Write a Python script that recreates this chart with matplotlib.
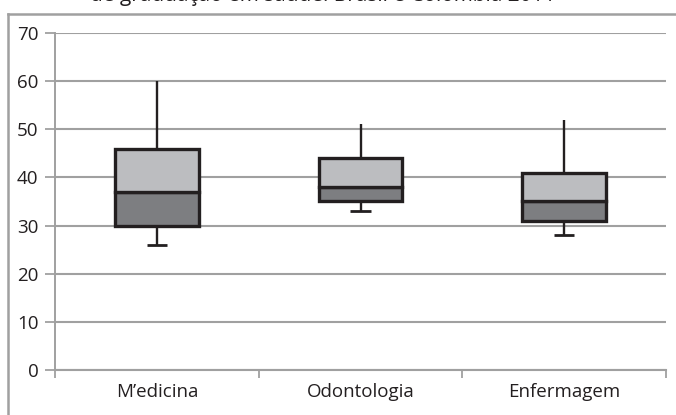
import numpy as np
import matplotlib
matplotlib.use("Agg")
from matplotlib import pyplot as plt
from matplotlib.lines import Line2D

# DADOS
cursos = ["M\u2019edicina", "Odontologia", "Enfermagem"]
minimo = [26, 33, 28]
q1 = [30, 35, 31]
mediana = [37, 38, 35]
q3 = [46, 44, 41]
maximo = [60, 51, 52]
titulo = "de graduação em saúde. Brasil e Colômbia 2011"

plt.rcParams['font.family'] = ['Open Sans', 'DejaVu Sans']

fig = plt.figure(figsize=(6.76, 4.15), dpi=100)
ax = fig.add_axes([55 / 676, 45 / 415, 611 / 676, 337 / 415])

x = np.arange(len(cursos))
largura = 0.41
cor_borda = '#231f20'

# bigodes
ax.vlines(x, maximo, q3, color=cor_borda, lw=1.7, zorder=3)
ax.vlines(x, minimo, q1, color=cor_borda, lw=1.7, zorder=3)
ax.hlines(minimo, x - 0.05, x + 0.05, color=cor_borda, lw=2, zorder=3)

# caixas
ax.bar(x, np.array(mediana) - np.array(q1), bottom=q1, width=largura,
       color='#7d7e81', edgecolor=cor_borda, linewidth=2.4, zorder=4)
ax.bar(x, np.array(q3) - np.array(mediana), bottom=mediana, width=largura,
       color='#bcbdc0', edgecolor=cor_borda, linewidth=2.4, zorder=4)

ax.set_xlim(-0.5, len(cursos) - 0.5)
ax.set_ylim(0, 70)
ax.set_yticks(range(0, 71, 10))
ax.set_xticks(x)
ax.set_xticklabels(cursos, fontsize=13.5, color='#231f20')
ax.set_xticks(np.arange(len(cursos) + 1) - 0.5, minor=True)
ax.tick_params(axis='x', which='major', length=0, pad=9)
ax.tick_params(axis='x', which='minor', length=6, color='#a0a0a0', width=1.3)
ax.tick_params(axis='y', length=7, color='#a0a0a0', width=1.3, labelsize=13.5,
               labelcolor='#231f20', pad=5)
ax.yaxis.grid(True, color='#a0a0a0', lw=1.5)
ax.set_axisbelow(True)
for s in ['top', 'right']:
    ax.spines[s].set_visible(False)
ax.spines['left'].set_color('#a0a0a0')
ax.spines['left'].set_linewidth(1.4)
ax.spines['bottom'].set_color('#a0a0a0')
ax.spines['bottom'].set_linewidth(1.5)

# moldura cortada
fig.add_artist(Line2D([8 / 676, 8 / 676], [0, 1 - 14 / 415], color='#a0a0a0', lw=1.8))
fig.add_artist(Line2D([8 / 676, 1], [1 - 14 / 415, 1 - 14 / 415], color='#a0a0a0', lw=1.8))
fig.text(323 / 676, 1 - 6 / 415, titulo, ha='center', va='bottom', fontsize=15,
         color='#231f20')

fig.savefig('out.png', dpi=100)
